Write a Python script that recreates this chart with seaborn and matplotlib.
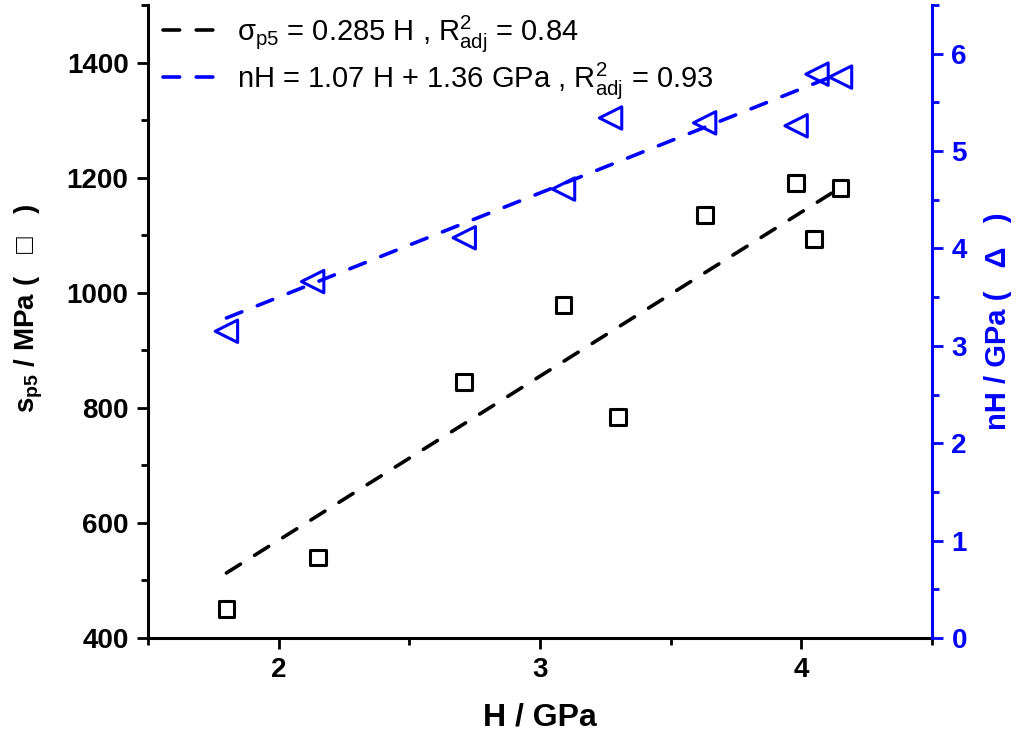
import matplotlib
matplotlib.use("Agg")
import matplotlib.pyplot as plt
import seaborn as sns
import numpy as np
import pandas as pd
from matplotlib.ticker import MultipleLocator

# ---- data ----
H_sq = [1.80, 2.15, 2.71, 3.09, 3.30, 3.63, 3.98, 4.05, 4.15]
sigma_p5 = [450, 540, 845, 978, 784, 1135, 1190, 1093, 1182]
H_tri = [1.80, 2.13, 2.71, 3.09, 3.27, 3.63, 3.98, 4.06, 4.15]
nH = [3.15, 3.66, 4.11, 4.61, 5.34, 5.29, 5.26, 5.79, 5.76]
fit_sigma_slope = 0.285   # sigma = 0.285 H
fit_nH_slope = 1.07
fit_nH_icpt = 1.36
fit_H_range = [1.80, 4.15]
legend_labels = [r"σ$_{p5}$ = 0.285 H , R$^{2}_{adj}$ = 0.84",
                 r"nH = 1.07 H + 1.36 GPa , R$^{2}_{adj}$ = 0.93"]

sns.set_theme(style="ticks")
plt.rcParams['font.family'] = ['Liberation Sans', 'DejaVu Sans']
plt.rcParams['mathtext.default'] = 'regular'
for k in ['text.color', 'axes.labelcolor', 'xtick.color', 'ytick.color', 'axes.edgecolor']:
    plt.rcParams[k] = 'black'

BLUE = "#0000ff"
fig = plt.figure(figsize=(10.16, 7.49), dpi=100)
ax = fig.add_axes([0.1457, 0.1482, 0.9173 - 0.1457, 0.9933 - 0.1482])
ax2 = ax.twinx()

df_sq = pd.DataFrame({"H": H_sq, "s": sigma_p5})
df_tri = pd.DataFrame({"H": H_tri, "nH": nH})
xf = np.array(fit_H_range)
df_fit1 = pd.DataFrame({"H": xf, "s": fit_sigma_slope * xf * 1000})
df_fit2 = pd.DataFrame({"H": xf, "nH": fit_nH_slope * xf + fit_nH_icpt})

dash = (0, (4.6, 4.6))
sns.lineplot(data=df_fit1, x="H", y="s", ax=ax, color="black", lw=2.6,
             linestyle=dash, legend=False)
sns.scatterplot(data=df_sq, x="H", y="s", ax=ax, marker="s", s=130,
                facecolor="none", edgecolor="black", linewidth=2.2, legend=False)
sns.lineplot(data=df_fit2, x="H", y="nH", ax=ax2, color=BLUE, lw=2.6,
             linestyle=dash, legend=False)
sns.scatterplot(data=df_tri, x="H", y="nH", ax=ax2, marker="<", s=260,
                facecolor="none", edgecolor=BLUE, linewidth=2.2, legend=False)
for l in ax.lines + ax2.lines:
    l.set_dash_capstyle("round")

ax.set_xlim(1.5, 4.5)
ax.set_ylim(400, 1500)
ax2.set_ylim(0, 6.5)
ax.xaxis.set_major_locator(MultipleLocator(1))
ax.xaxis.set_minor_locator(MultipleLocator(0.5))
ax.yaxis.set_major_locator(MultipleLocator(200))
ax.yaxis.set_minor_locator(MultipleLocator(100))
ax2.yaxis.set_major_locator(MultipleLocator(1))
ax2.yaxis.set_minor_locator(MultipleLocator(0.5))

for a in (ax, ax2):
    a.spines['top'].set_visible(False)
    for sp in a.spines.values():
        sp.set_linewidth(2.2)
ax.spines['right'].set_visible(False)
ax2.spines['left'].set_visible(False)
ax2.spines['bottom'].set_visible(False)
ax2.spines['right'].set_color(BLUE)

ax.tick_params(axis='both', which='major', direction='out', length=8, width=2,
               labelsize=20, pad=6, colors='black')
ax.tick_params(axis='both', which='minor', direction='out', length=5, width=2, colors='black')
ax2.tick_params(axis='y', which='major', direction='out', length=8, width=2,
                labelsize=20, colors=BLUE, pad=6)
ax2.tick_params(axis='y', which='minor', direction='out', length=5, width=2, colors=BLUE)
for t in ax.get_xticklabels() + ax.get_yticklabels() + ax2.get_yticklabels():
    t.set_fontweight('bold')

ax.set_xlabel("H / GPa", fontsize=23, fontweight='bold', labelpad=14)
ax.set_ylabel(r"s$_{p5}$ / MPa (   □   )", fontsize=20, fontweight='bold')
ax2.set_ylabel("nH / GPa (   Δ   )", fontsize=21, fontweight='bold', color=BLUE,
               rotation=90)
ax.yaxis.set_label_coords(-0.132, 0.521)
ax2.yaxis.set_label_coords(1.066, 0.5)

handles = [ax.lines[0], ax2.lines[0]]
leg = ax.legend(handles, legend_labels, loc="upper left", bbox_to_anchor=(0.0, 1.01),
                frameon=False, fontsize=21, handlelength=2.1, handletextpad=0.45,
                labelspacing=0.2, borderaxespad=0.1)

fig.savefig("out.png", dpi=100)
